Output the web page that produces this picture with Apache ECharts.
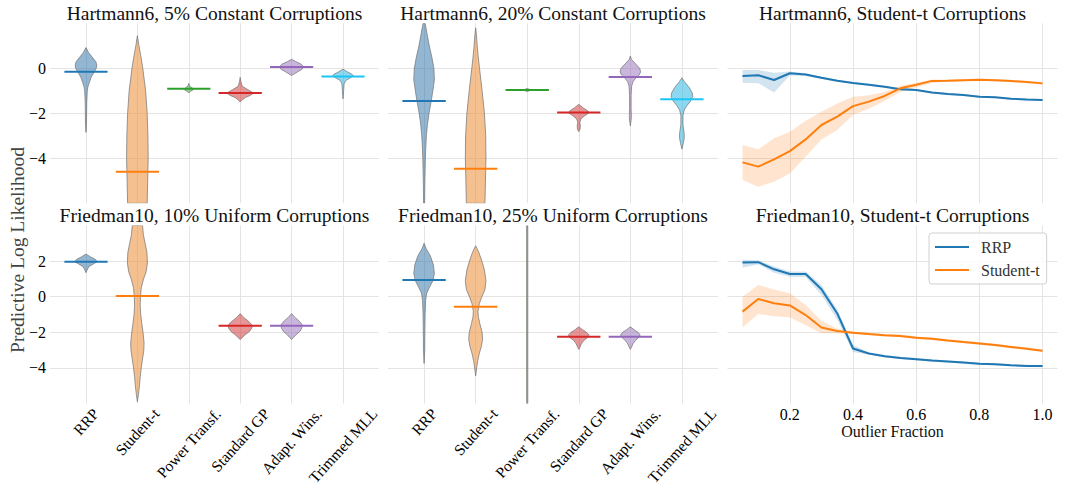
<!DOCTYPE html>
<html><head><meta charset="utf-8">
<script src="https://cdn.jsdelivr.net/npm/echarts@6/dist/echarts.min.js"></script>
<style>html,body{margin:0;padding:0;background:#fff}#c{width:1067px;height:488px}</style>
</head><body><div id="c"></div>
<script>
// ---------------- DATA ----------------
const methods = ['RRP', 'Student-t', 'Power Transf.', 'Standard GP', 'Adapt. Wins.', 'Trimmed MLL'];
const panelTitles = [
  'Hartmann6, 5% Constant Corruptions', 'Hartmann6, 20% Constant Corruptions', 'Hartmann6, Student-t Corruptions',
  'Friedman10, 10% Uniform Corruptions', 'Friedman10, 25% Uniform Corruptions', 'Friedman10, Student-t Corruptions'
];
const yTicksTop = [-4, -2, 0];
const yTicksBottom = [-4, -2, 0, 2];
const xTicksFraction = [0.2, 0.4, 0.6, 0.8, 1.0];

// violin profiles: [log-likelihood value, half width (category units)]
const h6c5Profiles = [
  [[0.92,0],[0.7,0.05],[0.5,0.12],[0.3,0.19],[0.15,0.21],[0.0,0.2],[-0.2,0.15],[-0.4,0.1],[-0.6,0.07],[-0.8,0.04],[-1.0,0.025],[-1.5,0.015],[-2.0,0.012],[-2.5,0.01],[-2.85,0]],
  [[1.45,0],[1.0,0.03],[0.5,0.07],[0,0.105],[-1,0.16],[-2,0.19],[-3,0.205],[-4,0.21],[-5,0.2],[-6,0.19],[-6.3,0.18]],
  [[-0.67,0],[-0.8,0.02],[-0.88,0.07],[-0.93,0.1],[-0.98,0.07],[-1.03,0.03],[-1.1,0]],
  [[-0.4,0],[-0.6,0.015],[-0.8,0.04],[-0.95,0.15],[-1.1,0.26],[-1.2,0.2],[-1.3,0.1],[-1.4,0.04],[-1.5,0]],
  [[0.4,0],[0.3,0.08],[0.18,0.19],[0.06,0.24],[-0.05,0.2],[-0.15,0.12],[-0.25,0.05],[-0.32,0]],
  [[-0.04,0],[-0.15,0.08],[-0.27,0.18],[-0.35,0.2],[-0.45,0.12],[-0.55,0.05],[-0.7,0.02],[-1.0,0.012],[-1.36,0]]
];
const h6c5Means = [-0.15, -4.6, -0.91, -1.1, 0.06, -0.36];

const h6c20Profiles = [
  [[2.3,0],[2.0,0.02],[1.5,0.06],[1.0,0.1],[0.5,0.15],[0,0.19],[-0.5,0.2],[-1.0,0.17],[-1.5,0.135],[-2.0,0.095],[-2.5,0.065],[-3.0,0.045],[-3.5,0.033],[-4,0.025],[-5,0.015],[-6,0.01],[-6.3,0]],
  [[1.8,0],[1.5,0.015],[1.0,0.03],[0.5,0.05],[0,0.075],[-1,0.125],[-2,0.17],[-3,0.195],[-4,0.2],[-5,0.19],[-6,0.18],[-6.3,0.17]],
  [[-0.9,0],[-0.94,0.05],[-0.97,0.06],[-1.0,0.04],[-1.03,0]],
  [[-1.6,0],[-1.75,0.08],[-1.9,0.18],[-1.98,0.2],[-2.1,0.12],[-2.25,0.04],[-2.4,0.02],[-2.55,0.03],[-2.7,0.025],[-2.82,0]],
  [[0.55,0],[0.4,0.02],[0.2,0.1],[0.0,0.18],[-0.15,0.2],[-0.3,0.17],[-0.45,0.1],[-0.6,0.05],[-0.8,0.025],[-1.2,0.015],[-1.8,0.015],[-2.1,0.02],[-2.3,0.015],[-2.56,0]],
  [[-0.42,0],[-0.6,0.05],[-0.85,0.14],[-1.1,0.2],[-1.25,0.21],[-1.45,0.17],[-1.65,0.1],[-1.85,0.045],[-2.1,0.02],[-2.5,0.02],[-2.9,0.045],[-3.1,0.045],[-3.35,0.025],[-3.59,0]]
];
const h6c20Means = [-1.45, -4.46, -0.96, -1.96, -0.39, -1.38];

const f10u10Profiles = [
  [[2.4,0],[2.25,0.08],[2.1,0.18],[1.97,0.22],[1.85,0.15],[1.7,0.06],[1.55,0.03],[1.35,0]],
  [[4.3,0.08],[4.0,0.1],[3.5,0.115],[3.0,0.15],[2.5,0.185],[1.9,0.195],[1.4,0.17],[1.0,0.12],[0.5,0.075],[0,0.06],[-0.5,0.055],[-1.0,0.065],[-1.5,0.085],[-2.0,0.11],[-2.6,0.13],[-3.0,0.125],[-3.5,0.1],[-4.0,0.075],[-4.5,0.055],[-5.0,0.04],[-5.5,0.02],[-5.9,0]],
  null,
  [[-0.95,0],[-1.15,0.06],[-1.35,0.15],[-1.55,0.22],[-1.75,0.23],[-1.95,0.18],[-2.15,0.09],[-2.3,0.04],[-2.4,0]],
  [[-0.95,0],[-1.15,0.06],[-1.35,0.14],[-1.55,0.2],[-1.75,0.2],[-1.95,0.16],[-2.15,0.08],[-2.3,0.035],[-2.4,0]],
  null
];
const f10u10Means = [1.97, 0.04, null, -1.63, -1.63, null];

const f10u25Profiles = [
  [[3.0,0],[2.7,0.04],[2.3,0.12],[1.8,0.18],[1.3,0.2],[0.9,0.17],[0.5,0.1],[0.2,0.05],[-0.2,0.03],[-1.0,0.02],[-2,0.015],[-3,0.012],[-3.75,0]],
  [[2.86,0],[2.5,0.06],[2.0,0.12],[1.5,0.17],[0.9,0.2],[0.4,0.18],[0.0,0.12],[-0.4,0.07],[-0.8,0.045],[-1.1,0.05],[-1.5,0.08],[-2.0,0.125],[-2.4,0.135],[-2.8,0.11],[-3.2,0.07],[-3.6,0.04],[-4.0,0.02],[-4.45,0]],
  [[4.5,0.011],[-6.5,0.011]],
  [[-1.69,0],[-1.85,0.07],[-2.0,0.15],[-2.15,0.2],[-2.3,0.17],[-2.45,0.1],[-2.65,0.05],[-2.85,0.02],[-2.96,0]],
  [[-1.69,0],[-1.85,0.07],[-2.0,0.15],[-2.15,0.19],[-2.3,0.16],[-2.45,0.1],[-2.65,0.05],[-2.85,0.02],[-2.96,0]],
  null
];
const f10u25Means = [0.94, -0.56, null, -2.25, -2.25, null];

const outlierFractions = [0.05,0.1,0.15,0.2,0.25,0.3,0.35,0.4,0.45,0.5,0.55,0.6,0.65,0.7,0.75,0.8,0.85,0.9,0.95,1.0];
const h6RRP   = [-0.34,-0.31,-0.52,-0.22,-0.28,-0.42,-0.55,-0.65,-0.73,-0.82,-0.93,-0.96,-1.08,-1.14,-1.19,-1.26,-1.29,-1.35,-1.39,-1.41];
const h6RRPLo = [-0.64,-0.66,-1.08,-0.32,-0.34,-0.47,-0.59,-0.69,-0.77,-0.86,-0.97,-1.00,-1.12,-1.18,-1.23,-1.30,-1.33,-1.39,-1.43,-1.45];
const h6RRPHi = [-0.08,-0.08,-0.20,-0.14,-0.22,-0.37,-0.51,-0.61,-0.69,-0.78,-0.89,-0.92,-1.04,-1.10,-1.15,-1.22,-1.25,-1.31,-1.35,-1.37];
const h6St    = [-4.18,-4.37,-4.05,-3.68,-3.16,-2.52,-2.15,-1.68,-1.48,-1.23,-0.89,-0.73,-0.56,-0.55,-0.53,-0.51,-0.53,-0.56,-0.61,-0.67];
const h6StLo  = [-4.96,-5.26,-5.04,-4.67,-3.93,-3.16,-2.74,-2.08,-1.80,-1.45,-1.05,-0.85,-0.65,-0.60,-0.58,-0.56,-0.58,-0.61,-0.66,-0.72];
const h6StHi  = [-3.41,-3.60,-3.11,-2.82,-2.33,-1.93,-1.56,-1.26,-1.20,-1.05,-0.78,-0.65,-0.50,-0.50,-0.48,-0.46,-0.48,-0.51,-0.56,-0.62];
const f10RRP   = [1.92,1.94,1.54,1.28,1.28,0.42,-0.94,-2.91,-3.19,-3.34,-3.44,-3.51,-3.59,-3.64,-3.70,-3.77,-3.79,-3.85,-3.89,-3.90];
const f10RRPLo = [1.63,1.83,1.35,1.12,1.10,0.10,-1.30,-3.10,-3.25,-3.40,-3.50,-3.57,-3.65,-3.70,-3.76,-3.83,-3.85,-3.91,-3.95,-3.96];
const f10RRPHi = [2.07,2.05,1.70,1.42,1.42,0.66,-0.70,-2.72,-3.13,-3.28,-3.38,-3.45,-3.53,-3.58,-3.64,-3.71,-3.73,-3.79,-3.83,-3.84];
const f10St    = [-0.84,-0.13,-0.37,-0.49,-1.03,-1.73,-1.93,-2.03,-2.10,-2.16,-2.21,-2.31,-2.36,-2.46,-2.55,-2.63,-2.72,-2.82,-2.93,-3.04];
const f10StLo  = [-1.73,-0.97,-1.10,-1.16,-1.60,-2.06,-2.05,-2.10,-2.17,-2.23,-2.28,-2.38,-2.43,-2.53,-2.62,-2.70,-2.79,-2.89,-3.00,-3.11];
const f10StHi  = [0.00,0.66,0.40,0.19,-0.47,-1.35,-1.80,-1.96,-2.03,-2.09,-2.14,-2.24,-2.29,-2.39,-2.48,-2.56,-2.65,-2.75,-2.86,-2.97];

// ---------------- STYLE ----------------
const FONT = "'Liberation Serif', 'DejaVu Serif', serif";
const lineColors = ['#1f77b4', '#ff7f0e', '#2ca02c', '#d62728', '#9467bd', '#1cc6f4'];
const fillColors = ['rgba(40,110,165,0.5)', 'rgba(236,140,52,0.55)', 'rgba(44,160,44,0.5)', 'rgba(205,45,45,0.5)', 'rgba(148,110,185,0.5)', 'rgba(28,178,228,0.5)'];
const gridColor = '#e6e4e2';
const catRot = 48, catFont = 15.5;

const mctx = document.createElement('canvas').getContext('2d');
function textW(s, size) { mctx.font = size + "px 'Liberation Serif'"; return mctx.measureText(s).width; }

const colsX = [[50, 329], [388, 330], [727.5, 330]];
const rowsY = [[23.3, 180], [225.5, 178]];
const grids = [];
for (let r = 0; r < 2; r++) for (let c = 0; c < 3; c++)
  grids.push({ left: colsX[c][0], width: colsX[c][1], top: rowsY[r][0], height: rowsY[r][1], containLabel: false, outerBoundsMode: 'none' });

function catX(gi) {
  return { gridIndex: gi, type: 'value', min: 0.3, max: 6.7,
    axisLine: { show: false }, axisTick: { show: false, customValues: [1, 2, 3, 4, 5, 6] },
    axisLabel: { show: false, customValues: [1, 2, 3, 4, 5, 6] },
    splitLine: { show: true, lineStyle: { color: gridColor, width: 1 } } };
}
function fracX(gi, showLabels) {
  return { gridIndex: gi, type: 'value', min: 0.0025, max: 1.0475,
    axisLine: { show: false }, axisTick: { show: false, customValues: xTicksFraction },
    axisLabel: { show: showLabels, customValues: xTicksFraction, formatter: v => v.toFixed(1), color: '#000', fontFamily: FONT, fontSize: 16, margin: 3 },
    splitLine: { show: true, lineStyle: { color: gridColor, width: 1 } },
    name: showLabels ? 'Outlier Fraction' : '', nameLocation: 'middle', nameGap: 18,
    nameTextStyle: { fontFamily: FONT, fontSize: 16, color: '#111', verticalAlign: 'top' } };
}
function yAx(gi, top, showLabels) {
  const ticks = top ? yTicksTop : yTicksBottom;
  return { gridIndex: gi, type: 'value', min: -6, max: top ? 2 : 4,
    axisLine: { show: false }, axisTick: { show: false, customValues: ticks },
    axisLabel: { show: showLabels, customValues: ticks, color: '#000', fontFamily: FONT, fontSize: 16, margin: 4,
      formatter: v => (v < 0 ? '\u2212' + Math.abs(v) : String(v)) },
    splitLine: { show: true, lineStyle: { color: gridColor, width: 1 } } };
}

function violinSeries(gi, profiles, means) {
  const data = [];
  profiles.forEach((p, k) => { if (p) data.push([k + 1, k]); });
  return {
    type: 'custom', xAxisIndex: gi, yAxisIndex: gi, silent: true, clip: true, z: 2,
    encode: { x: 0, y: 1 }, data,
    renderItem(params, api) {
      const pos = api.value(0), k = api.value(1);
      const prof = profiles[k];
      const cs = params.coordSys;
      const clampY = p => [p[0], Math.max(cs.y, Math.min(cs.y + cs.height, p[1]))];
      const right = prof.map(([v, w]) => clampY(api.coord([pos + w, v])));
      const left = prof.slice().reverse().map(([v, w]) => clampY(api.coord([pos - w, v])));
      const children = [{ type: 'polygon', shape: { points: right.concat(left) },
        style: { fill: fillColors[k], stroke: 'rgba(120,120,120,0.75)', lineWidth: 1 } }];
      const m = means[k];
      if (m !== null && m !== undefined) {
        const a = api.coord([pos - 0.42, m]), b = api.coord([pos + 0.42, m]);
        children.push({ type: 'line', shape: { x1: a[0], y1: a[1], x2: b[0], y2: b[1] },
          style: { stroke: lineColors[k], lineWidth: 2 } });
      }
      return { type: 'group', children };
    }
  };
}

function catLabelSeries(gi) {
  return {
    type: 'custom', xAxisIndex: gi, yAxisIndex: gi, silent: true, clip: false, z: 5,
    encode: { x: 0, y: 1 },
    data: methods.map((m, k) => [k + 1, -6, k]),
    renderItem(params, api) {
      const k = api.value(2);
      const p = api.coord([api.value(0), api.value(1)]);
      const th = catRot * Math.PI / 180;
      const L = textW(methods[k], catFont);
      const h = catFont * 1.1;
      const bh = L * Math.sin(th) + h * Math.cos(th);
      return { type: 'text', x: p[0], y: p[1] + 1.5 + bh / 2, rotation: th,
        style: { text: methods[k], fill: '#000', fontFamily: FONT, fontSize: catFont, align: 'center', verticalAlign: 'middle' } };
    }
  };
}

function bandSeries(gi, lo, hi, fill) {
  return {
    type: 'custom', xAxisIndex: gi, yAxisIndex: gi, silent: true, z: 2,
    data: [[outlierFractions[0], lo[0]]],
    renderItem(params, api) {
      const top = outlierFractions.map((x, i) => api.coord([x, hi[i]]));
      const bot = outlierFractions.map((x, i) => api.coord([x, lo[i]])).reverse();
      return { type: 'polygon', shape: { points: top.concat(bot) }, style: { fill } };
    }
  };
}
function lineSeries(gi, name, ys, color) {
  return { type: 'line', name, xAxisIndex: gi, yAxisIndex: gi, z: 3,
    data: outlierFractions.map((x, i) => [x, ys[i]]),
    showSymbol: false, symbol: 'none', smooth: false,
    lineStyle: { color, width: 2 }, itemStyle: { color }, emphasis: { disabled: true } };
}

const titleCenters = [214.5, 553, 892.5, 214.5, 553, 892.5];
const titleTops = [3.5, 3.5, 3.5, 205.5, 205.5, 205.5];
const TITLE_SIZE = 19.5;

const option = {
  animation: false,
  backgroundColor: '#fff',
  title: panelTitles.map((t, i) => ({
    text: t, left: titleCenters[i] - textW(t, TITLE_SIZE) / 2, top: titleTops[i], padding: 0,
    textStyle: { fontFamily: FONT, fontSize: TITLE_SIZE, fontWeight: 'normal', color: '#111' }
  })),
  grid: grids,
  xAxis: [catX(0), catX(1), fracX(2, false), catX(3), catX(4), fracX(5, true)],
  yAxis: [yAx(0, true, true), yAx(1, true, false), yAx(2, true, false), yAx(3, false, true), yAx(4, false, false), yAx(5, false, false)],
  legend: {
    data: ['RRP', 'Student-t'], orient: 'vertical', left: 929, top: 233,
    icon: 'rect', itemWidth: 34, itemHeight: 2,
    padding: [5, 7, 5, 6], itemGap: 5,
    backgroundColor: 'rgba(255,255,255,0.85)', borderColor: '#d0d0d0', borderWidth: 1, borderRadius: 3,
    textStyle: { fontFamily: FONT, fontSize: 16, color: '#333', padding: [0, 0, 0, 7], lineHeight: 18 }
  },
  graphic: [{
    type: 'text', x: 17, y: 250, rotation: Math.PI / 2,
    style: { text: 'Predictive Log Likelihood', fontFamily: FONT, fontSize: 19.5, fill: '#444', align: 'center', verticalAlign: 'middle' }
  }],
  series: [
    violinSeries(0, h6c5Profiles, h6c5Means),
    violinSeries(1, h6c20Profiles, h6c20Means),
    violinSeries(3, f10u10Profiles, f10u10Means),
    violinSeries(4, f10u25Profiles, f10u25Means),
    catLabelSeries(3), catLabelSeries(4),
    bandSeries(2, h6RRPLo, h6RRPHi, 'rgba(31,119,180,0.2)'),
    lineSeries(2, 'RRP', h6RRP, '#1f77b4'),
    bandSeries(2, h6StLo, h6StHi, 'rgba(255,127,14,0.2)'),
    lineSeries(2, 'Student-t', h6St, '#ff7f0e'),
    bandSeries(5, f10RRPLo, f10RRPHi, 'rgba(31,119,180,0.2)'),
    lineSeries(5, 'RRP', f10RRP, '#1f77b4'),
    bandSeries(5, f10StLo, f10StHi, 'rgba(255,127,14,0.2)'),
    lineSeries(5, 'Student-t', f10St, '#ff7f0e')
  ]
};
const chart = echarts.init(document.getElementById('c'), null, { renderer: 'svg' });
chart.setOption(option);
</script>
</body></html>
